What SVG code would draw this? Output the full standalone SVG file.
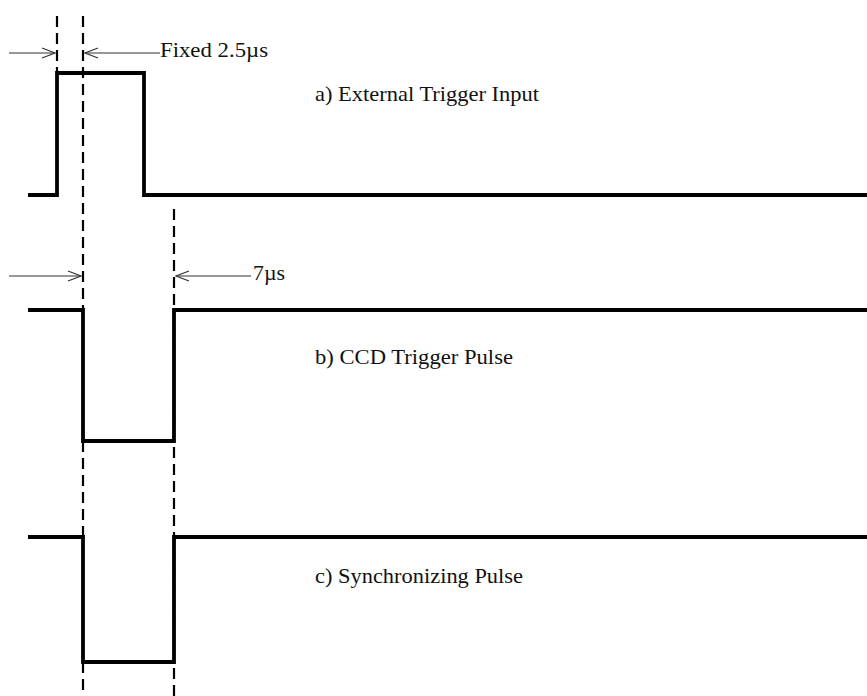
<svg xmlns="http://www.w3.org/2000/svg" width="867" height="696" viewBox="0 0 867 696">
<defs>
<style>
.wave{fill:none;stroke:#000;stroke-width:3.8;stroke-linejoin:miter;stroke-linecap:butt}
.dash{fill:none;stroke:#000;stroke-width:2.2;stroke-dasharray:11 6}
.arr{fill:none;stroke:#333;stroke-width:1.2}
.ah{fill:none;stroke:#333;stroke-width:1.2}
.lbl{font-family:"Liberation Serif","Times New Roman",serif;font-size:21px;fill:#111}
</style>
</defs>
<rect width="867" height="696" fill="#fff"/>
<g id="guides">
<line class="dash" x1="57" y1="16" x2="57" y2="73"/>
<line class="dash" x1="83" y1="16" x2="83" y2="696"/>
<line class="dash" x1="174" y1="209" x2="174" y2="696"/>
</g>
<g id="wave-a">
<polyline class="wave" points="28,195 57,195 57,73 144,73 144,195 867,195"/>
<text class="lbl" x="315" y="101" textLength="224" lengthAdjust="spacingAndGlyphs">a) External Trigger Input</text>
</g>
<g id="wave-b">
<polyline class="wave" points="28,310 83,310 83,441 174,441 174,310 867,310"/>
<text class="lbl" x="315" y="364" textLength="198" lengthAdjust="spacingAndGlyphs">b) CCD Trigger Pulse</text>
</g>
<g id="wave-c">
<polyline class="wave" points="28,537 83,537 83,662 174,662 174,537 867,537"/>
<text class="lbl" x="315" y="583" textLength="208" lengthAdjust="spacingAndGlyphs">c) Synchronizing Pulse</text>
</g>
<g id="connectors">
<line class="arr" x1="9" y1="53" x2="55" y2="53"/>
<polyline class="ah" points="42,48 55,53 42,58"/>
<line class="arr" x1="160" y1="53" x2="85" y2="53"/>
<polyline class="ah" points="98,48 85,53 98,58"/>
<line class="arr" x1="9" y1="276" x2="81" y2="276"/>
<polyline class="ah" points="68,271 81,276 68,281"/>
<line class="arr" x1="251" y1="276" x2="176" y2="276"/>
<polyline class="ah" points="189,271 176,276 189,281"/>
</g>
<g id="measure-labels">
<text class="lbl" x="160" y="57" textLength="108" lengthAdjust="spacingAndGlyphs">Fixed 2.5µs</text>
<text class="lbl" x="253" y="280" textLength="32" lengthAdjust="spacingAndGlyphs">7µs</text>
</g>
</svg>
